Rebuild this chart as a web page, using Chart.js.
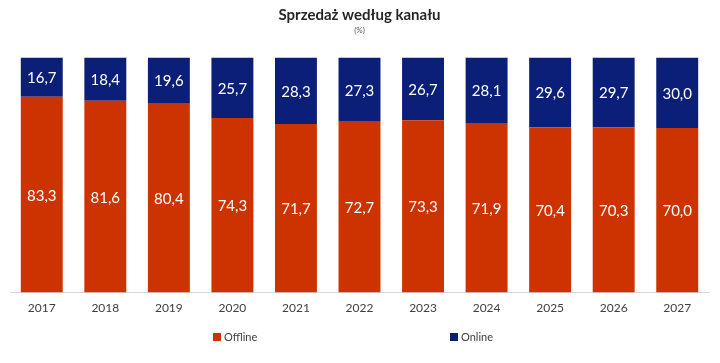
<!DOCTYPE html>
<html>
<head>
<meta charset="utf-8">
<script src="https://cdn.jsdelivr.net/npm/chart.js@4"></script>
<style>
  html, body { margin: 0; padding: 0; background: #ffffff; }
  #wrap { width: 720px; height: 363px; }
</style>
</head>
<body>
<div id="wrap"><canvas id="salesChart"></canvas></div>
<script>
// Chart data
const years = ['2017', '2018', '2019', '2020', '2021', '2022', '2023', '2024', '2025', '2026', '2027'];
const offlineValues = [83.3, 81.6, 80.4, 74.3, 71.7, 72.7, 73.3, 71.9, 70.4, 70.3, 70.0];
const onlineValues = [16.7, 18.4, 19.6, 25.7, 28.3, 27.3, 26.7, 28.1, 29.6, 29.7, 30.0];

const OFFLINE_COLOR = '#cc3300';
const ONLINE_COLOR = '#0b1f78';
const FONT = 'Lato, "Open Sans", sans-serif';

// Format number with decimal comma
function formatValue(v) {
    return v.toFixed(1).replace('.', ',');
}

// Draw value labels in the middle of each segment
const segmentLabels = {
    id: 'segmentLabels',
    afterDatasetsDraw(chart) {
        const ctx = chart.ctx;
        ctx.save();
        ctx.fillStyle = '#ffffff';
        ctx.font = '15px ' + FONT;
        ctx.textAlign = 'center';
        ctx.textBaseline = 'middle';
        chart.data.datasets.forEach((ds, i) => {
            const meta = chart.getDatasetMeta(i);
            meta.data.forEach((bar, j) => {
                const p = bar.getProps(['x', 'y', 'base'], true);
                ctx.fillText(formatValue(ds.data[j]), p.x, (p.y + p.base) / 2 + 1);
            });
        });
        ctx.restore();
    }
};

// Legend spread wide at the bottom
const wideLegend = {
    id: 'wideLegend',
    afterDraw(chart) {
        const ctx = chart.ctx;
        const positions = [218, 455];
        ctx.save();
        ctx.font = '11px ' + FONT;
        ctx.textBaseline = 'middle';
        chart.data.datasets.forEach((ds, i) => {
            const x = positions[i];
            const y = 337;
            ctx.fillStyle = ds.backgroundColor;
            ctx.fillRect(x - 5, y - 4, 8, 8);
            ctx.fillStyle = '#404040';
            ctx.fillText(ds.label, x + 6, y);
        });
        ctx.restore();
    }
};

const salesCtx = document.getElementById('salesChart').getContext('2d');
const salesChart = new Chart(salesCtx, {
    type: 'bar',
    data: {
        labels: years,
        datasets: [
            {
                label: 'Offline',
                data: offlineValues,
                backgroundColor: OFFLINE_COLOR,
                categoryPercentage: 1,
                barPercentage: 0.66
            },
            {
                label: 'Online',
                data: onlineValues,
                backgroundColor: ONLINE_COLOR,
                categoryPercentage: 1,
                barPercentage: 0.66
            }
        ]
    },
    options: {
        responsive: true,
        maintainAspectRatio: false,
        animation: false,
        layout: {
            padding: { left: 10, right: 11, top: 0, bottom: 40 }
        },
        plugins: {
            legend: { display: false },
            tooltip: { enabled: false },
            title: {
                display: true,
                text: 'Sprzedaż według kanału',
                color: '#262626',
                font: { family: FONT, size: 15, weight: 'bold' },
                padding: { top: 6, bottom: 2 }
            },
            subtitle: {
                display: true,
                text: '(%)',
                color: '#595959',
                font: { family: FONT, size: 8 },
                padding: { bottom: 22 }
            }
        },
        scales: {
            x: {
                stacked: true,
                grid: { display: false, drawTicks: false },
                border: { display: true, color: '#d9d9d9', width: 1 },
                ticks: {
                    color: '#404040',
                    font: { family: FONT, size: 12 },
                    padding: 8
                }
            },
            y: {
                stacked: true,
                display: false,
                min: 0,
                max: 100
            }
        }
    },
    plugins: [segmentLabels, wideLegend]
});
</script>
</body>
</html>
